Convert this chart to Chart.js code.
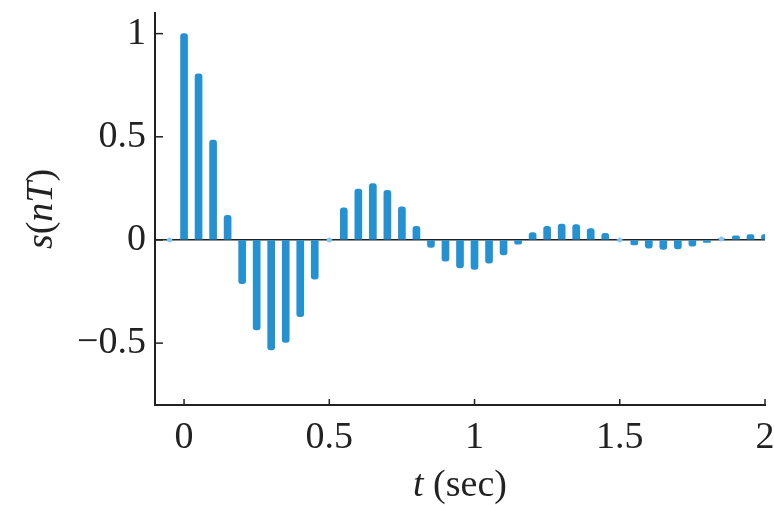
<!DOCTYPE html>
<html>
<head>
<meta charset="utf-8">
<script src="https://cdn.jsdelivr.net/npm/chart.js@4/dist/chart.umd.min.js"></script>
<style>
  body { margin: 0; background: #fff; }
  #wrap { width: 774px; height: 505px; }
</style>
</head>
<body>
<div id="wrap"><canvas id="stemChart"></canvas></div>
<script>
// sample times (sec), T = 0.05
const times = [-0.05, 0, 0.05, 0.1, 0.15, 0.2, 0.25, 0.3, 0.35, 0.4, 0.45,
  0.5, 0.55, 0.6, 0.65, 0.7, 0.75, 0.8, 0.85, 0.9, 0.95,
  1.0, 1.05, 1.1, 1.15, 1.2, 1.25, 1.3, 1.35, 1.4, 1.45,
  1.5, 1.55, 1.6, 1.65, 1.7, 1.75, 1.8, 1.85, 1.9, 1.95, 2.0];
// s(nT)
const samples = [0, 1.0, 0.805, 0.484, 0.119, -0.212, -0.436, -0.533, -0.497, -0.372, -0.19,
  0, 0.156, 0.247, 0.273, 0.24, 0.161, 0.066, -0.036, -0.103, -0.135,
  -0.143, -0.112, -0.072, -0.02, 0.036, 0.066, 0.077, 0.074, 0.055, 0.032,
  0, -0.024, -0.04, -0.046, -0.043, -0.03, -0.012, 0.005, 0.02, 0.026, 0.026];
const xTicks = [0, 0.5, 1, 1.5, 2];
const yTicks = [-0.5, 0, 0.5, 1];

const stemColor = "#2391d2";
const serif = "'Liberation Serif', 'DejaVu Serif', serif";

const points = times.map((t, i) => ({ x: t, y: samples[i] }));
const zeroPoints = points.filter((p) => Math.abs(p.y) < 0.01);

const fmt = (v) => (v < 0 ? "\u2212" + Math.abs(v) : String(v));

// inward tick marks + axis titles with mixed italic
const decorations = {
  id: "decorations",
  afterDraw(chart) {
    const ctx = chart.ctx;
    const x = chart.scales.x;
    const y = chart.scales.y;
    const area = chart.chartArea;
    ctx.save();
    ctx.strokeStyle = "#222";
    ctx.lineWidth = 1.5;
    xTicks.forEach((v) => {
      const px = x.getPixelForValue(v);
      ctx.beginPath();
      ctx.moveTo(px, area.bottom);
      ctx.lineTo(px, area.bottom - 6);
      ctx.stroke();
    });
    yTicks.forEach((v) => {
      const py = y.getPixelForValue(v);
      ctx.beginPath();
      ctx.moveTo(area.left, py);
      ctx.lineTo(area.left + 8, py);
      ctx.stroke();
    });

    ctx.fillStyle = "#222";
    ctx.textBaseline = "middle";
    const drawParts = (parts, cx, cy) => {
      let total = 0;
      parts.forEach((p) => {
        ctx.font = (p[1] ? "italic " : "") + "38px " + serif;
        total += ctx.measureText(p[0]).width;
      });
      let pos = cx - total / 2;
      parts.forEach((p) => {
        ctx.font = (p[1] ? "italic " : "") + "38px " + serif;
        ctx.textAlign = "left";
        ctx.fillText(p[0], pos, cy);
        pos += ctx.measureText(p[0]).width;
      });
    };

    drawParts([["t", true], [" (sec)", false]], (area.left + area.right) / 2, 486);

    ctx.translate(42, (area.top + area.bottom) / 2);
    ctx.rotate(-Math.PI / 2);
    drawParts([["s", true], ["(", false], ["nT", true], [")", false]], 0, 0);
    ctx.restore();
  },
};

new Chart(document.getElementById("stemChart"), {
  type: "bar",
  data: {
    datasets: [
      {
        type: "scatter",
        data: zeroPoints,
        pointRadius: 2.5,
        pointBackgroundColor: "#8cc6ea",
        pointBorderWidth: 0,
      },
      {
        data: points,
        backgroundColor: stemColor,
        barThickness: 7,
        borderRadius: 3,
        borderSkipped: "start",
      },
    ],
  },
  options: {
    responsive: true,
    maintainAspectRatio: false,
    animation: false,
    layout: { padding: { top: 13, right: 9, left: 0, bottom: 0 } },
    plugins: { legend: { display: false }, tooltip: { enabled: false } },
    scales: {
      x: {
        type: "linear",
        min: -0.1,
        max: 2,
        offset: false,
        afterBuildTicks: (s) => { s.ticks = xTicks.map((v) => ({ value: v })); },
        afterFit: (s) => {
          s.height = 100;
          s.paddingLeft = 0;
          s.paddingRight = 0;
        },
        grid: { display: false, drawTicks: false },
        border: { display: true, color: "#222", width: 2 },
        ticks: {
          color: "#222",
          padding: 10,
          maxRotation: 0,
          font: { family: serif, size: 38 },
          callback: fmt,
        },
      },
      y: {
        min: -0.8,
        max: 1.1,
        z: 1,
        afterBuildTicks: (s) => { s.ticks = yTicks.map((v) => ({ value: v })); },
        afterFit: (s) => {
          s.width = 155;
          s.paddingTop = 0;
          s.paddingBottom = 0;
        },
        grid: {
          drawTicks: false,
          color: (c) => (c.tick && c.tick.value === 0 ? "#222" : "rgba(0,0,0,0)"),
          lineWidth: 1.5,
        },
        border: { display: true, color: "#222", width: 2 },
        ticks: {
          color: "#222",
          padding: 9,
          font: { family: serif, size: 38 },
          callback: fmt,
        },
      },
    },
  },
  plugins: [decorations],
});
</script>
</body>
</html>
